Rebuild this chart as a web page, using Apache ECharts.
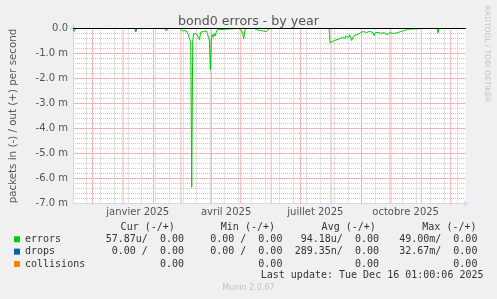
<!DOCTYPE html>
<html><head><meta charset="utf-8">
<script src="https://cdn.jsdelivr.net/npm/echarts@6/dist/echarts.min.js"></script>
<style>html,body{margin:0;padding:0;background:#f0f0f0}#c{width:497px;height:299px}</style>
</head><body><div id="c"></div><script>
// Time frame: the plot covers 400 days starting at startDate (one pixel per day)
const startDate = '2024-11-11';
const spanDays = 400;
const monthStarts = ['2024-12-01','2025-01-01','2025-02-01','2025-03-01','2025-04-01','2025-05-01','2025-06-01','2025-07-01','2025-08-01','2025-09-01','2025-10-01','2025-11-01','2025-12-01'];
const monthLabelDates = ['2025-01-16','2025-04-16','2025-07-16','2025-10-16'];
const monthLabelTexts = ['janvier 2025','avril 2025','juillet 2025','octobre 2025'];
const minorGridDays = 14; // every other Monday, starting at the left edge grid
// values in milli-packets per second ("m"); [day since startDate, value]
const errorsIn = [
  [0,0],[1,-0.12],[2,-0.08],[3,0],
  [18,0],[19,-0.05],[20,0],
  [90,0],[91,-0.03],[92,0],[94,0],[95,-0.1],[96,-0.04],[97,0],
  [109,0],[110,-0.05],[111,-0.03],[112,-0.1],[113,-0.06],[114,-0.12],[115,-0.08],[116,-0.1],[117,-0.2],[118,-0.3],[119,-0.45],[120,-0.55],[121,-6.35],[122,-0.5],[123,-0.2],[124,-0.25],[125,-0.12],[126,-0.22],[127,-0.15],[128,-0.3],[129,-0.45],[130,-0.15],[131,-0.1],[132,-0.18],[133,-0.12],[134,-0.08],[135,-0.15],[136,-0.1],[137,-0.2],[138,-0.35],[139,-0.5],[140,-1.65],[141,-0.4],[142,-0.25],[143,-0.35],[144,-0.2],[145,-0.3],[146,-0.15],[147,-0.05],[148,0],
  [168,0],[169,-0.03],[170,-0.05],[171,-0.03],[172,-0.08],[173,-0.2],[174,-0.42],[175,-0.1],[176,0],
  [185,0],[186,-0.05],[187,-0.03],[188,-0.06],[189,-0.1],[190,-0.05],[191,-0.08],[192,-0.04],[193,-0.06],[194,-0.1],[195,-0.05],[196,-0.08],[197,-0.12],[198,-0.2],[199,-0.05],[200,0],
  [235,0],[236,-0.04],[237,-0.02],[238,0],[239,-0.05],[240,-0.03],[241,0],
  [261,0],[262,-0.57],[263,-0.54],[264,-0.53],[265,-0.51],[266,-0.5],[267,-0.48],[268,-0.46],[269,-0.45],[270,-0.44],[271,-0.42],[272,-0.41],[273,-0.39],[274,-0.36],[275,-0.31],[276,-0.35],[277,-0.39],[278,-0.3],[279,-0.28],[280,-0.32],[281,-0.35],[282,-0.25],[283,-0.3],[284,-0.48],[285,-0.38],[286,-0.31],[287,-0.27],[288,-0.25],[289,-0.21],[290,-0.24],[291,-0.28],[292,-0.22],[293,-0.17],[294,-0.21],[295,-0.18],[296,-0.12],[297,-0.15],[298,-0.14],[299,-0.16],[300,-0.15],[301,-0.14],[302,-0.12],[303,-0.13],[304,-0.15],[305,-0.14],[306,-0.15],[307,-0.28],[308,-0.17],[309,-0.15],[310,-0.14],[311,-0.16],[312,-0.15],[313,-0.17],[314,-0.19],[315,-0.21],[316,-0.18],[317,-0.17],[318,-0.2],[319,-0.22],[320,-0.25],[321,-0.2],[322,-0.18],[323,-0.17],[324,-0.18],[325,-0.17],[326,-0.19],[327,-0.2],[328,-0.21],[329,-0.19],[330,-0.17],[331,-0.17],[332,-0.15],[333,-0.14],[334,-0.12],[335,-0.11],[336,-0.1],[337,-0.09],[338,-0.08],[339,-0.07],[340,-0.05],[341,-0.03],[342,-0.02],[343,0],
  [356,0],[357,-0.03],[358,0],
  [371,0],[372,-0.17],[373,0],
  [383,0],[384,-0.03],[385,0],
  [398,0],[399,-0.05],[400,0]
];
const dropsIn = [[0,0],[63,0],[64,-0.13],[65,0],[400,0]];
const collisionsVals = [[0,0],[400,0]];
const yMin = -7, yMax = 0;
const legendNames = ['errors','drops','collisions'];
const legendColors = ['#00cc00','#0066b3','#ff8000'];
const colHeaders = ['Cur (-/+)','Min (-/+)','Avg (-/+)','Max (-/+)'];
const errorsStats = ['57.87u/  0.00','0.00 /  0.00','94.18u/  0.00','49.00m/  0.00'];
const dropsStats = ['0.00 /  0.00','0.00 /  0.00','289.35n/  0.00','32.67m/  0.00'];
const collisionsStats = ['0.00','0.00','0.00','0.00'];
const lastUpdate = 'Last update: Tue Dec 16 01:00:06 2025';
const titleText = 'bond0 errors - by year';
const yAxisTitle = 'packets in (-) / out (+) per second';
const sideText = 'RRDTOOL / TOBI OETIKER';
const footer = 'Munin 2.0.67';

const t0 = Date.parse(startDate + 'T00:00:00Z');
const dayOf = s => Math.round((Date.parse(s + 'T00:00:00Z') - t0) / 86400000);
const monthStartDays = monthStarts.map(dayOf);
const labelDays = monthLabelDates.map(dayOf);
const labelMap = {};
labelDays.forEach((d, i) => { labelMap[d] = monthLabelTexts[i]; });
// month gridlines as vertical segments through the axes' scales (gaps between them)
const monthGridData = [];
monthStartDays.forEach(d => { monthGridData.push([d, yMin], [d, yMax], [d, '-']); });

const MONO = '"DejaVu Sans Mono", monospace';
const SANS = '"DejaVu Sans", sans-serif';
const AXIS_C = '#cfd6f8';
const MINOR_C = '#c6c6c6';
const MAJOR_C = '#f2b2b2';

const headerRight = [174.8, 275, 375.8, 476.5];
const valueRight = [184, 282.4, 379, 477.4];
const rowsY = [239.3, 251.7, 264];
const statRows = [errorsStats, dropsStats, collisionsStats];
const graphics = [];
colHeaders.forEach((h, i) => graphics.push({type:'text', x: headerRight[i], y: 227.7, style:{text:h, font:'10px ' + MONO, fill:'#333', align:'right', verticalAlign:'middle'}}));
statRows.forEach((row, r) => row.forEach((v, i) => graphics.push({type:'text', x: valueRight[i], y: rowsY[r], style:{text:v, font:'10px ' + MONO, fill:'#333', align:'right', verticalAlign:'middle'}})));
graphics.push({type:'text', x: 483.5, y: 275.7, style:{text:lastUpdate, font:'10px ' + MONO, fill:'#333', align:'right', verticalAlign:'middle'}});
graphics.push({type:'text', x: 248.5, y: 288.3, style:{text:footer, font:'8px ' + SANS, fill:'#c4c4c4', align:'center', verticalAlign:'middle'}});
graphics.push({type:'text', x: 486.5, y: 54, rotation: -Math.PI/2, style:{text:sideText, font:'7.5px ' + SANS, fill:'#c4c4c4', align:'center', verticalAlign:'middle'}});

const chart = echarts.init(document.getElementById('c'), null, {renderer:'canvas'});
chart.setOption({
  animation: false,
  backgroundColor: '#f0f0f0',
  title: {text: titleText, left: 'center', top: 10, textStyle:{fontFamily: SANS, fontSize: 12.6, fontWeight:'normal', color:'#555'}},
  grid: {left: 65.5, right: 31.5, top: 28.5, bottom: 95.5, show: true, backgroundColor: '#ffffff', borderWidth: 0, containLabel: false},
  legend: {orient:'vertical', left: 14, top: 233.1, itemWidth: 6, itemHeight: 6, itemGap: 0, icon: 'rect', padding: 0, selectedMode: false,
    textStyle:{fontFamily: MONO, fontSize: 10, color:'#333', lineHeight: 12.35}, data: legendNames},
  xAxis: [
    {type:'value', min:0, max:spanDays, interval: minorGridDays, position:'bottom',
      axisLine:{show:true, onZero:false, lineStyle:{color:AXIS_C, width:1}, symbol:['none','arrow'], symbolSize:[5,5], symbolOffset:[0,3]},
      axisTick:{show:false}, axisLabel:{show:false},
      splitLine:{show:true, showMinLine:false, showMaxLine:false, lineStyle:{color:MINOR_C, width:1, type:[1,1]}}},
    {type:'value', min:0, max:spanDays, position:'bottom',
      axisLine:{show:false}, axisTick:{show:false}, splitLine:{show:false},
      axisLabel:{show:true, customValues: labelDays, formatter: v => labelMap[v] || '', fontFamily: SANS, fontSize: 10, color:'#555', margin: 4}}
  ],
  yAxis: [
    {type:'value', min:yMin, max:yMax, interval:0.2, position:'left',
      axisLine:{show:false}, axisTick:{show:false}, axisLabel:{show:false},
      splitLine:{show:true, lineStyle:{color:MINOR_C, width:1, type:[1,1]}}},
    {type:'value', min:yMin, max:yMax, interval:1, position:'left',
      axisLine:{show:true, onZero:false, lineStyle:{color:AXIS_C, width:1}, symbol:['none','arrow'], symbolSize:[5,5], symbolOffset:[0,4]},
      axisTick:{show:false},
      axisLabel:{fontFamily: SANS, fontSize:10, color:'#555', margin:5, formatter: v => v === 0 ? '0.0' : v.toFixed(1) + ' m'},
      splitLine:{show:true, lineStyle:{color:MAJOR_C, width:1, type:'solid'}},
      name: yAxisTitle, nameLocation:'middle', nameGap: 55, nameRotate: 90,
      nameTextStyle:{fontFamily: SANS, fontSize: 10.3, color:'#555'}}
  ],
  series: [
    {type:'line', xAxisIndex:0, yAxisIndex:1, data: monthGridData, showSymbol:false, symbol:'none', silent:true, z: 1,
      connectNulls:false, lineStyle:{color:MAJOR_C, width:1, type:'solid'}, itemStyle:{color:MAJOR_C}},
    {name:'collisions', type:'line', xAxisIndex:0, yAxisIndex:1, data: collisionsVals, showSymbol:false, symbol:'none', z: 6,
      lineStyle:{color: legendColors[2], width:1}, itemStyle:{color: legendColors[2]}},
    {name:'errors', type:'line', xAxisIndex:0, yAxisIndex:1, data: errorsIn, showSymbol:false, symbol:'none', z: 7,
      lineStyle:{color: legendColors[0], width:1}, itemStyle:{color: legendColors[0]}},
    {name:'drops', type:'line', xAxisIndex:0, yAxisIndex:1, data: dropsIn, showSymbol:false, symbol:'none', z: 8,
      lineStyle:{color: legendColors[1], width:1}, itemStyle:{color: legendColors[1]}},
    {type:'line', xAxisIndex:0, yAxisIndex:1, data: [], showSymbol:false, symbol:'none', z: 20, silent:true,
      markLine:{z: 20, silent:true, symbol:['none','none'], label:{show:false}, animation:false,
        lineStyle:{color:'#000', width:1, type:'solid', opacity:1}, data:[{yAxis:0}]}}
  ],
  graphic: graphics
});
</script></body></html>
